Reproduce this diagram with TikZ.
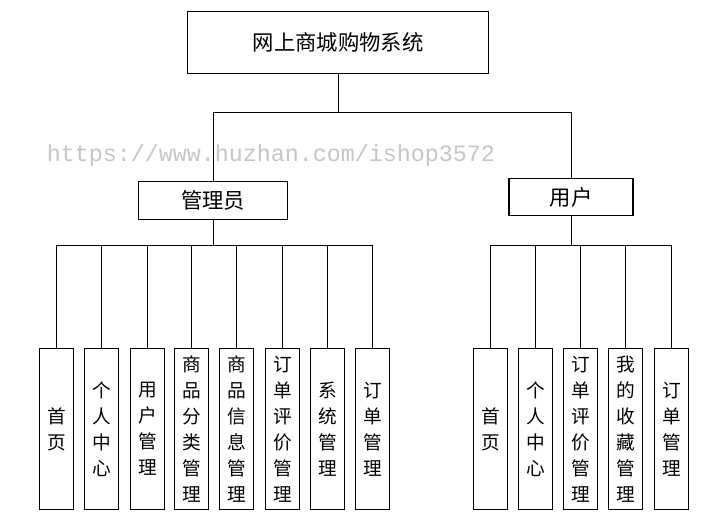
\documentclass[tikz,border=0pt]{standalone}
\usepackage{fontspec}
\setmainfont{Noto Sans CJK SC}
\newfontfamily\wmfont{Liberation Mono}
\usetikzlibrary{positioning}
\tikzset{
  box/.style={draw, thick, fill=white, inner sep=0pt, font=\fontsize{16}{18}\selectfont},
  leaf/.style={box, minimum width=26pt, minimum height=121pt, align=center,
    font=\fontsize{14}{19.5}\selectfont},
  link/.style={draw, semithick}
}
\begin{document}
\begin{tikzpicture}[x=0.75pt, y=-0.75pt]
  \useasboundingbox (0,0) rectangle (710,529);

  % top level
  \node[box, minimum width=226pt, minimum height=47pt] (root) at (338,42.5) {网上商城购物系统};
  \node[box, minimum width=112pt, minimum height=28pt] (admin) at (213,200.5) {管理员};
  \node[box, minimum width=93pt, minimum height=28pt] (user) at (571,197) {用户};

  \coordinate (rbus) at (338,112);
  \draw[link] (root.south) -- (rbus);
  \draw[link] (admin.north) |- (rbus);
  \draw[link] (user.north) |- (rbus);

  % watermark
  \node[text=gray!45, font=\wmfont\fontsize{17.5}{20}\selectfont] (wm) at (271,155)
    {https://www.huzhan.com/ishop3572};

  % admin leaves
  \coordinate (abus) at (213,245);
  \draw[link] (admin.south) -- (abus);
  \foreach \x/\t [count=\i] in {56.5/首\\页, 101.5/个\\人\\中\\心, 147.5/用\\户\\管\\理,
      191.5/商\\品\\分\\类\\管\\理, 236.5/商\\品\\信\\息\\管\\理, 282.5/订\\单\\评\\价\\管\\理,
      327.5/系\\统\\管\\理, 372.5/订\\单\\管\\理} {
    \node[leaf] (a\i) at (\x,429) {\t};
    \draw[link] (a\i.north) |- (abus);
  }

  % user leaves
  \coordinate (ubus) at (571,245);
  \draw[link] (user.south) -- (ubus);
  \foreach \x/\t [count=\i] in {490.5/首\\页, 535.5/个\\人\\中\\心, 580.5/订\\单\\评\\价\\管\\理,
      625.5/我\\的\\收\\藏\\管\\理, 671.5/订\\单\\管\\理} {
    \node[leaf] (u\i) at (\x,429) {\t};
    \draw[link] (u\i.north) |- (ubus);
  }
\end{tikzpicture}
\end{document}
